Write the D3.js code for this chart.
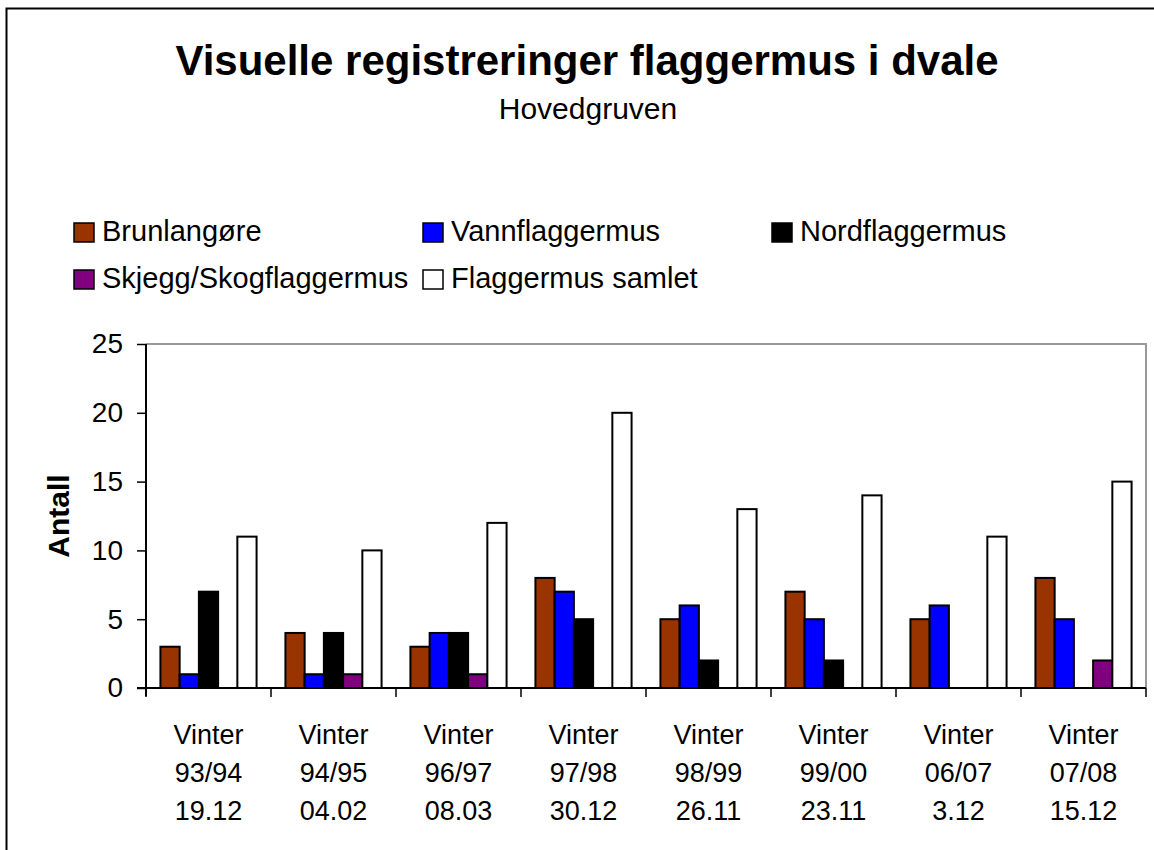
<!DOCTYPE html>
<html><head><meta charset="utf-8">
<script src="https://cdn.jsdelivr.net/npm/d3@7"></script>
<style>body{margin:0;background:#fff}svg{display:block;font-family:"Liberation Sans",Arial,sans-serif}</style>
</head><body>
<svg id="c" width="1154" height="850"></svg>
<script>
const categories = [["Vinter","93/94","19.12"],["Vinter","94/95","04.02"],["Vinter","96/97","08.03"],["Vinter","97/98","30.12"],["Vinter","98/99","26.11"],["Vinter","99/00","23.11"],["Vinter","06/07","3.12"],["Vinter","07/08","15.12"]];
const seriesNames = ["Brunlangøre","Vannflaggermus","Nordflaggermus","Skjegg/Skogflaggermus","Flaggermus samlet"];
const brunlangore = [3,4,3,8,5,7,5,8];
const vannflaggermus = [1,1,4,7,6,5,6,5];
const nordflaggermus = [7,4,4,5,2,2,0,0];
const skjegg = [0,1,1,0,0,0,0,2];
const samlet = [11,10,12,20,13,14,11,15];
const seriesValues = [brunlangore, vannflaggermus, nordflaggermus, skjegg, samlet];
const colors = ["#993300","#0000ff","#000000","#800080","#ffffff"];
const yTicks = [0,5,10,15,20,25];

const svg = d3.select("#c");
svg.append("rect").attr("x",6.5).attr("y",8.5).attr("width",1160).attr("height",860).attr("fill","#fff").attr("stroke","#000").attr("stroke-width",2);

svg.append("text").attr("x",587).attr("y",75).attr("text-anchor","middle").attr("font-size",42).attr("font-weight","bold").text("Visuelle registreringer flaggermus i dvale");
svg.append("text").attr("x",588).attr("y",119).attr("text-anchor","middle").attr("font-size",30).text("Hovedgruven");

const L=146,R=1146,T=344,B=688;
const x0 = d3.scaleBand().domain(d3.range(categories.length)).range([L,R]).paddingInner(0).paddingOuter(0);
const y = d3.scaleLinear().domain([0,25]).range([B,T]);

svg.append("path").attr("d",`M${L},${T}H${R}V${B}`).attr("fill","none").attr("stroke","#999").attr("stroke-width",2);

const bw = x0.bandwidth()/6.5;
const off = bw*0.75;
const g = svg.append("g");
seriesValues.forEach((vals,si)=>{
  g.selectAll(null).data(vals).join("rect")
    .attr("x",(d,i)=>x0(i)+off+si*bw)
    .attr("y",d=>y(d))
    .attr("width",bw)
    .attr("height",d=>B-y(d))
    .attr("fill",colors[si])
    .attr("stroke","#000").attr("stroke-width",2)
    .attr("display",d=>d===0?"none":null);
});

const ya = svg.append("g").attr("transform",`translate(${L},0)`).call(d3.axisLeft(y).tickValues(yTicks).tickSize(9).tickPadding(14));
ya.select(".domain").attr("stroke","#000").attr("stroke-width",2).attr("d",`M0,${T}V${B+8}`);
ya.selectAll(".tick line").attr("stroke-width",1.5);
ya.selectAll("text").attr("font-size",28).attr("font-family","Liberation Sans, Arial").attr("fill","#000");

const xa = svg.append("g").attr("transform",`translate(0,${B})`);
xa.append("line").attr("x1",L-9).attr("x2",R).attr("stroke","#000").attr("stroke-width",2);
d3.range(categories.length+1).forEach(i=>{
  const xx = i<categories.length ? x0(i) : R;
  xa.append("line").attr("x1",xx).attr("x2",xx).attr("y1",0).attr("y2",9).attr("stroke","#000").attr("stroke-width",1.5);
});
categories.forEach((c,i)=>{
  const t = xa.append("text").attr("text-anchor","middle").attr("font-size",27).attr("x",x0(i)+x0.bandwidth()/2);
  c.forEach((s,k)=>t.append("tspan").attr("x",x0(i)+x0.bandwidth()/2).attr("y",56+k*38).text(s));
});

svg.append("text").attr("transform","translate(69,516) rotate(-90)").attr("text-anchor","middle").attr("font-size",30).attr("font-weight","bold").text("Antall");

const legPos = [[74,241],[423,241],[772,241],[74,288],[423,288]];
seriesNames.forEach((n,i)=>{
  const [lx,ly]=legPos[i];
  svg.append("rect").attr("x",lx).attr("y",ly-18).attr("width",20).attr("height",19).attr("fill",colors[i]).attr("stroke","#000").attr("stroke-width",1.5);
  svg.append("text").attr("x",lx+28).attr("y",ly).attr("font-size",29).text(n);
});
</script>
</body></html>
